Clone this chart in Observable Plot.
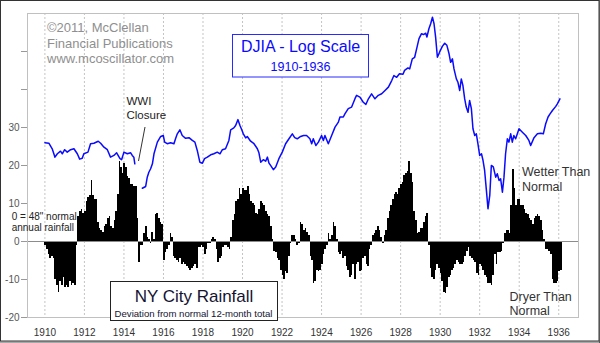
<!DOCTYPE html>
<html>
<head>
<meta charset="utf-8">
<script src="https://cdn.jsdelivr.net/npm/d3@7"></script>
<script src="https://cdn.jsdelivr.net/npm/@observablehq/plot@0.6"></script>
<style>
  body { margin: 0; background: #fff; }
  svg { display: block; }
</style>
</head>
<body>
<div id="chart"></div>
<script>
// ---------- DATA ----------
// NY City rainfall: deviation (inches) of trailing 12-month total from the 48" normal, monthly from Jan 1910
const rainStartYear = 1910;
const rainDeviation = [
  -1, -2, -3.5, -4.5, -4, -4.5, -10, -11.5, -13.5, -10.5, -11.5, -9.5,      // 1910
  -12, -11.5, -12, -10.5, -11.5, -11, -11.5, -1, 6.5, 8, 8.5, 7.5,          // 1911
  8, 10.5, 11.5, 12, 16, 12, 11, 11, 5, 3.5, 3, 2.5,                         // 1912
  4, 4.5, 6, 6.5, 4, 3.5, 5.5, 8, 12.5, 21, 19.5, 18,                        // 1913
  20.5, 19.5, 17, 16.5, 15, 15, 14.5, 14.5, 6, -5.5, -1, -1,                 // 1914
  2, 4, 1, 0.5, -0.5, 2.5, 0.5, 7, 7.5, 6, 5, 4.5,                           // 1915
  -5, -3, -2, -1, 2, 1, -4, -4.5, -5, -5.5, -4.5, -6,                        // 1916
  -5.5, -6, -6.5, -7, -7.5, -7, -6.5, -6, -7, -1.5, -1.5, -1,                // 1917
  -1.5, -3.5, -2, -0.5, -0.5, 0.5, 1, 0.5, -2, -5.5, -4.5, -4,               // 1918
  -1.5, -1, -1, -1.5, -2, 1, 5.5, 7, 10.5, 11, 14, 12.5,                     // 1919
  14, 13.5, 13.5, 14.5, 12.5, 10.5, 10, 9.5, 7.5, 7, 8.5, 10.5,              // 1920
  10, 9.5, 8, 7, 6.5, 4, 0.5, -2.5, -3, -4.5, -5, -7.5,                      // 1921
  -9, -10, -8, -8.5, -4, -0.5, 1.5, 1.5, 0.5, -1, -0.5, 5,                   // 1922
  4.5, 3, 3.5, 2.5, 1.5, -4, -5, -11, -10.5, -7.5, -8, -7.5,                 // 1923
  -6, -3.5, -2, -1, 2, 0.5, 1.5, 5, 4, 0.5, -3, -3.5,                        // 1924
  -2.5, -4.5, -4, -6.5, -7.5, -9.5, -9, -6, -10, -6, -5.5, -8,               // 1925
  -7.5, -4.5, -4, -6, -6.5, -2, -1, 1.5, 2, 3, 4, 3,                         // 1926
  1, -0.5, 1.5, 3, 6, 8, 9.5, 11, 12.5, 13, 12.5, 14,                        // 1927
  15, 15.5, 17.5, 18, 18.5, 21, 18, 15.5, 8, 5.5, 2, 2.5,                    // 1928
  3.5, 3.5, 5, 6.5, 7.5, -1, -7, -9.5, -10, -7.5, -6, -7,                    // 1929
  -8.5, -10.5, -13.5, -13.7, -12, -9.5, -9, -7.5, -7, -6, -5, -5.5,          // 1930
  -6, -6, -5.5, -4, -2.5, -1.5, -4, -4.5, -5, -5.5, -8.5, -9,                // 1931
  -6, -6.5, -7.5, -9, -9.5, -11, -11, -11.5, -9, -3.5, -6, -3,               // 1932
  -3, -2.5, -0.5, 2, 3, 3, 2, 9.5, 19, 14, 9.5, 11,                          // 1933
  11, 9.5, 9.5, 8.5, 7.5, 7, 6, 5.5, 4.5, 6, 6.5, 7,                         // 1934
  6.5, 5.5, 3, 0.5, -2, -2, -2.5, -3.5, -10, -11, -11, -10.5,                // 1935
  -8, -7.5                                                                    // 1936
];

// DJIA (index points) by decimal year; null = NYSE closure gap (WWI)
const djiaSeries = [
  [1910.00, 88.6], [1910.20, 88.1], [1910.37, 82.5], [1910.51, 74.9], [1910.63, 77.9], [1910.79, 80.3],
  [1910.88, 77.9], [1911.00, 81.7], [1911.13, 79.4], [1911.30, 81.7], [1911.47, 82.6], [1911.64, 77.9],
  [1911.76, 73.2], [1911.89, 74.0], [1911.97, 77.9], [1912.18, 79.4], [1912.31, 87.6], [1912.48, 88.1],
  [1912.70, 90.2], [1912.82, 88.1], [1912.99, 84.1], [1913.16, 81.7], [1913.32, 74.9], [1913.49, 76.4],
  [1913.63, 78.8], [1913.80, 73.6], [1913.88, 72.7], [1914.00, 79.4], [1914.17, 77.9], [1914.34, 78.8],
  [1914.42, 76.4], [1914.50, 74.9], [1914.55, 69.3], [1914.75, null],
  [1914.93, 52.1], [1915.10, 53.2], [1915.18, 59.3], [1915.26, 62.8], [1915.35, 65.4], [1915.44, 69.3],
  [1915.52, 77.9], [1915.69, 89.2], [1915.86, 95.3], [1915.99, 96.4], [1916.06, 89.2], [1916.19, 87.6],
  [1916.36, 88.6], [1916.53, 87.6], [1916.61, 92.8], [1916.70, 98.3], [1916.83, 103.0], [1916.95, 96.4],
  [1917.12, 93.3], [1917.29, 94.0], [1917.46, 91.0], [1917.59, 89.2], [1917.71, 81.0], [1917.84, 70.6],
  [1917.97, 69.8], [1918.08, 73.6], [1918.22, 74.9], [1918.39, 77.0], [1918.55, 77.9], [1918.72, 79.4],
  [1918.86, 77.9], [1918.98, 81.7], [1919.14, 82.6], [1919.31, 91.0], [1919.40, 103.0], [1919.56, 105.3],
  [1919.65, 108.4], [1919.77, 116.0], [1919.87, 108.4], [1919.94, 104.3], [1920.04, 98.3], [1920.16, 93.8],
  [1920.24, 95.3], [1920.41, 90.2], [1920.58, 87.6], [1920.75, 82.6], [1920.83, 78.8], [1920.92, 70.6],
  [1921.05, 72.7], [1921.17, 71.4], [1921.26, 74.9], [1921.34, 69.8], [1921.42, 68.0], [1921.56, 64.7],
  [1921.68, 66.8], [1921.84, 73.6], [1922.01, 79.4], [1922.18, 87.6], [1922.35, 92.8], [1922.52, 98.3],
  [1922.64, 94.0], [1922.77, 92.8], [1922.94, 95.3], [1923.09, 96.4], [1923.24, 96.4], [1923.41, 92.8],
  [1923.50, 87.6], [1923.58, 92.8], [1923.71, 85.8], [1923.84, 89.2], [1924.00, 96.4], [1924.09, 91.0],
  [1924.17, 96.4], [1924.34, 87.6], [1924.51, 96.4], [1924.68, 106.3], [1924.85, 112.7], [1924.93, 119.6],
  [1925.10, 119.6], [1925.18, 124.1], [1925.35, 131.8], [1925.52, 134.3], [1925.69, 148.1], [1925.77, 154.0],
  [1925.94, 150.9], [1926.11, 142.1], [1926.24, 138.5], [1926.37, 147.9], [1926.53, 156.8], [1926.70, 147.9],
  [1926.87, 154.0], [1927.04, 156.8], [1927.21, 163.0], [1927.38, 169.5], [1927.55, 183.0], [1927.66, 194.0],
  [1927.80, 190.1], [1927.94, 198.2], [1928.12, 197.0], [1928.20, 206.0], [1928.37, 212.1], [1928.46, 209.7],
  [1928.59, 235.7], [1928.71, 240.1], [1928.83, 270.5], [1928.93, 298.2], [1929.05, 315.6], [1929.16, 312.9],
  [1929.27, 317.8], [1929.33, 303.8], [1929.43, 334.8], [1929.52, 355.0], [1929.61, 383.2], [1929.69, 355.0],
  [1929.77, 303.8], [1929.86, 240.1], [1929.97, 254.8], [1930.11, 272.7], [1930.23, 282.9], [1930.34, 276.0],
  [1930.45, 250.1], [1930.53, 226.4], [1930.62, 235.7], [1930.70, 209.7], [1930.82, 186.6], [1930.90, 179.3],
  [1930.99, 163.0], [1931.07, 186.6], [1931.15, 173.0], [1931.24, 148.1], [1931.32, 134.3], [1931.41, 126.4],
  [1931.49, 145.0], [1931.58, 131.8], [1931.66, 104.3], [1931.75, 96.4], [1931.83, 98.3], [1931.91, 87.6],
  [1932.00, 76.4], [1932.09, 77.9], [1932.17, 72.0], [1932.25, 64.1], [1932.34, 50.8], [1932.42, 41.0],
  [1932.51, 47.9], [1932.59, 68.0], [1932.69, 66.8], [1932.81, 59.3], [1932.89, 61.7], [1932.98, 57.1],
  [1933.06, 58.2], [1933.15, 49.8], [1933.23, 59.3], [1933.31, 77.9], [1933.40, 92.8], [1933.48, 89.2],
  [1933.57, 98.3], [1933.65, 89.2], [1933.73, 96.4], [1933.82, 92.8], [1933.99, 104.3], [1934.16, 100.2],
  [1934.33, 96.4], [1934.49, 91.0], [1934.58, 85.8], [1934.75, 94.0], [1934.92, 98.3], [1935.09, 99.0],
  [1935.22, 98.3], [1935.34, 110.6], [1935.46, 119.6], [1935.56, 124.1], [1935.68, 129.0], [1935.85, 135.4],
  [1935.93, 139.5], [1936.06, 147.9]
];

const xTickYears = [1910, 1912, 1914, 1916, 1918, 1920, 1922, 1924, 1926, 1928, 1930, 1932, 1934, 1936];
const yTicks = [-20, -10, 0, 10, 20, 30, 40, 50];
const yTickLabels = [-20, -10, 0, 10, 20, 30];

// placement of the (unlabelled) DJIA log axis on the rainfall scale
const djiaLogAxis = { offset: -75.18, unitsPerDecade: 51.95 };

// ---------- BUILD ----------
const rain = rainDeviation.map((v, i) => ({
  start: rainStartYear + i / 12,
  end: rainStartYear + (i + 1) / 12,
  dev: v
}));
const djia = djiaSeries.map(([t, v]) => ({
  t,
  pos: v == null ? NaN : djiaLogAxis.offset + djiaLogAxis.unitsPerDecade * Math.log10(v)
}));

const FONT = "Arial, 'Liberation Sans', sans-serif";

const svg = Plot.plot({
  width: 600,
  height: 343,
  marginLeft: 27,
  marginRight: 22,
  marginTop: 13,
  marginBottom: 26,
  style: { fontFamily: FONT, background: "#fff", fontSize: "10px" },
  x: { domain: [1909.12, 1937.0] },
  y: { domain: [-20, 60] },
  marks: [
    Plot.ruleX(xTickYears, { stroke: "#c4c4c4", strokeDasharray: "2,2" }),
    Plot.rectY(rain, { x1: "start", x2: "end", y: "dev", fill: "#000", inset: 0, shapeRendering: "crispEdges" }),
    Plot.ruleY([0], { stroke: "#8c8c8c" }),
    Plot.line(djia, { x: "t", y: "pos", stroke: "#0a0aff", strokeWidth: 1.5 }),
    Plot.frame({ stroke: "#c0c0c0" }),
    Plot.axisX({ ticks: xTickYears, tickFormat: d => String(d), tickSize: 0, tickPadding: 11, fill: "#333", label: null }),
    Plot.axisY({ ticks: yTicks, tickFormat: d => yTickLabels.includes(d) ? String(d) : "", tickSize: 6, tickPadding: 2, stroke: "#999", fill: "#555", label: null })
  ]
});

const g = d3.select(svg).append("g").attr("font-family", FONT);

function addText(x, y, str, size, fill, anchor = "start") {
  g.append("text").attr("x", x).attr("y", y).attr("font-size", size).attr("fill", fill)
    .attr("text-anchor", anchor).text(str);
}

// copyright
addText(47, 31.5, "©2011, McClellan", 13, "#8f8f8f");
addText(47, 47.5, "Financial Publications", 13, "#8f8f8f");
addText(47, 63, "www.mcoscillator.com", 13, "#8f8f8f");

// DJIA title box
g.append("rect").attr("x", 232.5).attr("y", 34.5).attr("width", 136).attr("height", 42.5)
  .attr("fill", "#fff").attr("stroke", "#2a2aff");
addText(300.5, 51.7, "DJIA - Log Scale", 16, "#0a0aff", "middle");
addText(300.5, 71, "1910-1936", 12.5, "#0a0aff", "middle");

// WWI closure note
addText(126.5, 105, "WWI", 11.5, "#222");
addText(126.5, 118.5, "Closure", 11.5, "#222");
g.append("line").attr("x1", 145).attr("y1", 127).attr("x2", 138.5).attr("y2", 161)
  .attr("stroke", "#333").attr("stroke-width", 1);

// normal note
addText(11.7, 220, "0 = 48\" normal", 10, "#222");
addText(11.7, 230.5, "annual rainfall", 10, "#222");

// NY City Rainfall box
g.append("rect").attr("x", 110.5).attr("y", 281.5).attr("width", 167).attr("height", 39)
  .attr("fill", "#fff").attr("stroke", "#222");
addText(194, 301.5, "NY City Rainfall", 17, "#141432", "middle");
addText(193.5, 316.5, "Deviation from normal 12-month total", 9.6, "#141432", "middle");

// wetter / dryer notes
addText(522, 176, "Wetter Than", 12.5, "#333");
addText(522, 191, "Normal", 12.5, "#333");
addText(509.5, 300.5, "Dryer Than", 12.5, "#333");
addText(509.5, 315, "Normal", 12.5, "#333");

// outer border
g.append("rect").attr("x", 0.5).attr("y", 0.5).attr("width", 598.5).attr("height", 340.5)
  .attr("fill", "none").attr("stroke", "#333").attr("stroke-width", 1);
g.append("line").attr("x1", 0).attr("y1", 342).attr("x2", 600).attr("y2", 342).attr("stroke", "#555");
g.append("line").attr("x1", 599.5).attr("y1", 0).attr("x2", 599.5).attr("y2", 343).attr("stroke", "#555");

document.getElementById("chart").appendChild(svg);
</script>
</body>
</html>
